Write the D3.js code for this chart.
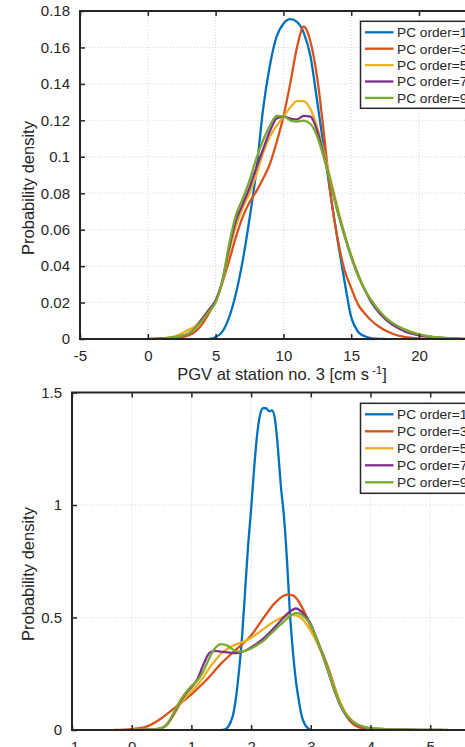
<!DOCTYPE html>
<html>
<head>
<meta charset="utf-8">
<script src="https://cdn.jsdelivr.net/npm/d3@7"></script>
<style>
  html, body { margin: 0; padding: 0; background: #fff; }
  svg { display: block; font-family: "Liberation Sans", Arial, Helvetica, sans-serif; }
</style>
</head>
<body>
<div id="chart"></div>
<script>
// PDF curves, [x, density]
const seriesNames = ["PC order=1", "PC order=3", "PC order=5", "PC order=7", "PC order=9"];
const seriesColors = ["#0072BD", "#D95319", "#EDB120", "#7E2F8E", "#77AC30"];

// top panel: PGV at station no. 3
const topOrder1 = [[4.5,0],[5,0.001],[5.5,0.004],[6,0.012],[6.5,0.025],[7,0.043],[7.5,0.066],[8,0.092],[8.5,0.126],[9,0.150],[9.5,0.166],[10,0.173],[10.5,0.1755],[11,0.174],[11.5,0.168],[12,0.155],[12.5,0.130],[13,0.104],[13.5,0.078],[14,0.054],[14.5,0.032],[15,0.012],[15.5,0.004],[16,0.0015],[16.5,0.0004],[17,0.0001],[17.5,0]];
const topOrder3 = [[1.5,0],[2,0.0005],[3,0.002],[3.5,0.004],[4,0.008],[4.5,0.014],[5,0.021],[5.5,0.031],[6,0.043],[6.5,0.056],[7,0.067],[7.5,0.075],[8,0.081],[8.5,0.088],[9,0.096],[9.5,0.108],[10,0.122],[10.5,0.140],[11,0.160],[11.5,0.1715],[12,0.163],[12.5,0.143],[13,0.112],[13.5,0.078],[14,0.055],[14.5,0.038],[15,0.028],[15.5,0.019],[16,0.014],[16.5,0.010],[17,0.007],[18,0.003],[19,0.001],[20,0.0003],[21,0]];
const topOrder5 = [[0.5,0],[1,0.0003],[2,0.0015],[3,0.005],[3.5,0.007],[4,0.011],[4.5,0.016],[5,0.021],[5.5,0.031],[6,0.048],[6.5,0.062],[7,0.072],[7.5,0.080],[8,0.090],[8.5,0.102],[9,0.111],[9.5,0.117],[10,0.122],[10.5,0.127],[11,0.1305],[11.5,0.1305],[12,0.126],[12.5,0.116],[13,0.102],[13.5,0.087],[14,0.072],[14.5,0.058],[15,0.046],[15.5,0.036],[16,0.027],[16.5,0.021],[17,0.016],[17.5,0.012],[18,0.009],[19,0.005],[20,0.0025],[21,0.0012],[22,0.0005],[23,0.0002],[24,0]];
const topOrder7 = [[0,0],[0.5,0.0002],[1,0.0003],[2,0.001],[3,0.003],[3.5,0.006],[4,0.011],[4.5,0.016],[5,0.021],[5.5,0.032],[6,0.050],[6.5,0.065],[7,0.074],[7.5,0.083],[8,0.094],[8.5,0.104],[9,0.114],[9.5,0.121],[10,0.122],[10.5,0.121],[11,0.1205],[11.5,0.1225],[12,0.122],[12.5,0.114],[13,0.100],[13.5,0.085],[14,0.070],[14.5,0.057],[15,0.045],[15.5,0.035],[16,0.027],[16.5,0.020],[17,0.015],[17.5,0.011],[18,0.008],[19,0.004],[20,0.002],[21,0.001],[22,0.0004],[23,0]];
const topOrder9 = [[0,0],[1,0.0002],[2,0.001],[3,0.003],[3.5,0.006],[4,0.010],[4.5,0.015],[5,0.020],[5.5,0.032],[6,0.052],[6.5,0.068],[7,0.077],[7.5,0.087],[8,0.099],[8.5,0.109],[9,0.117],[9.5,0.1225],[10,0.1222],[10.5,0.120],[11,0.1193],[11.5,0.1198],[12,0.118],[12.5,0.111],[13,0.099],[13.5,0.085],[14,0.070],[14.5,0.057],[15,0.045],[15.5,0.035],[16,0.027],[16.5,0.021],[17,0.016],[17.5,0.012],[18,0.009],[18.5,0.0068],[19,0.005],[20,0.0025],[21,0.0012],[22,0.0006],[23,0.0003],[24,0.0001],[25,0.0001]];
const topXTicks = [-5, 0, 5, 10, 15, 20, 25];
const topYTicks = [0, 0.02, 0.04, 0.06, 0.08, 0.1, 0.12, 0.14, 0.16, 0.18];

// bottom panel
const botOrder1 = [[1.5,0],[1.55,0.002],[1.6,0.01],[1.65,0.03],[1.7,0.07],[1.75,0.15],[1.8,0.27],[1.85,0.42],[1.9,0.62],[1.95,0.82],[2.0,0.98],[2.05,1.16],[2.1,1.31],[2.15,1.40],[2.2,1.43],[2.25,1.43],[2.3,1.417],[2.35,1.42],[2.4,1.38],[2.45,1.25],[2.5,1.08],[2.55,0.95],[2.6,0.76],[2.65,0.52],[2.7,0.35],[2.75,0.22],[2.8,0.13],[2.85,0.06],[2.9,0.025],[2.95,0.008],[3.0,0]];
const botOrder3 = [[-0.3,0],[0,0.004],[0.25,0.015],[0.5,0.052],[0.75,0.105],[1.0,0.158],[1.25,0.222],[1.5,0.296],[1.75,0.358],[2.0,0.42],[2.2,0.495],[2.4,0.565],[2.6,0.602],[2.7,0.598],[2.8,0.57],[2.9,0.52],[3.0,0.46],[3.1,0.40],[3.2,0.34],[3.3,0.27],[3.4,0.19],[3.5,0.115],[3.6,0.06],[3.7,0.028],[3.8,0.012],[3.9,0.005],[4.0,0.002],[4.2,0]];
const botOrder5 = [[0,0.002],[0.3,0.003],[0.5,0.008],[0.6,0.025],[0.7,0.065],[0.8,0.11],[0.9,0.145],[1.0,0.172],[1.1,0.2],[1.2,0.235],[1.3,0.275],[1.4,0.31],[1.5,0.34],[1.6,0.36],[1.7,0.375],[1.8,0.385],[1.9,0.395],[2.0,0.41],[2.1,0.428],[2.2,0.447],[2.3,0.467],[2.4,0.485],[2.5,0.498],[2.6,0.507],[2.7,0.511],[2.8,0.505],[2.9,0.48],[3.0,0.44],[3.1,0.39],[3.2,0.33],[3.3,0.26],[3.4,0.185],[3.5,0.12],[3.6,0.07],[3.7,0.04],[3.8,0.022],[3.9,0.013],[4.0,0.008],[4.3,0.003],[4.6,0.0015],[5.0,0.0005],[5.3,0]];
const botOrder7 = [[0,0.001],[0.3,0.002],[0.4,0.003],[0.5,0.008],[0.6,0.028],[0.7,0.07],[0.8,0.12],[0.9,0.16],[1.0,0.19],[1.1,0.225],[1.2,0.29],[1.3,0.342],[1.4,0.352],[1.5,0.348],[1.6,0.345],[1.7,0.342],[1.8,0.343],[1.9,0.352],[2.0,0.367],[2.1,0.385],[2.2,0.405],[2.3,0.43],[2.4,0.458],[2.5,0.487],[2.6,0.515],[2.7,0.535],[2.75,0.54],[2.8,0.535],[2.9,0.51],[3.0,0.47],[3.1,0.405],[3.2,0.333],[3.3,0.252],[3.4,0.172],[3.5,0.107],[3.6,0.062],[3.7,0.036],[3.8,0.02],[3.9,0.012],[4.0,0.007],[4.3,0.003],[4.6,0.0013],[5.0,0.0005],[5.2,0]];
const botOrder9 = [[0,0.001],[0.3,0.002],[0.4,0.003],[0.5,0.008],[0.6,0.03],[0.7,0.075],[0.8,0.125],[0.9,0.165],[1.0,0.195],[1.1,0.22],[1.2,0.26],[1.3,0.32],[1.4,0.365],[1.5,0.382],[1.6,0.375],[1.7,0.357],[1.8,0.348],[1.9,0.352],[2.0,0.362],[2.1,0.378],[2.2,0.395],[2.3,0.42],[2.4,0.445],[2.5,0.47],[2.6,0.495],[2.7,0.515],[2.75,0.52],[2.8,0.518],[2.9,0.50],[3.0,0.465],[3.1,0.405],[3.2,0.335],[3.3,0.255],[3.4,0.175],[3.5,0.11],[3.6,0.065],[3.7,0.038],[3.8,0.022],[3.9,0.013],[4.0,0.008],[4.3,0.003],[4.6,0.0015],[5.0,0.0007],[5.3,0]];
const botXTicks = [-1, 0, 1, 2, 3, 4, 5, 6];
const botYTicks = [0, 0.5, 1, 1.5];

const W = 465, H = 747;
const ink = "#262626";

const svg = d3.select("#chart").append("svg")
    .attr("width", W)
    .attr("height", H);

function panel(opt) {
    const { left, right, top, bottom, xDomain, yDomain, xTicks, yTicks, series, legendY, labelY, id } = opt;
    const x = d3.scaleLinear().domain(xDomain).range([left, right]);
    const y = d3.scaleLinear().domain(yDomain).range([bottom, top]);
    const g = svg.append("g");

    // dotted grid
    g.append("g").selectAll("line.gx").data(xTicks).join("line")
        .attr("x1", d => x(d)).attr("x2", d => x(d))
        .attr("y1", top).attr("y2", bottom)
        .attr("stroke", "#d4d4d4").attr("stroke-width", 1).attr("stroke-dasharray", "1,2");
    g.append("g").selectAll("line.gy").data(yTicks).join("line")
        .attr("x1", left).attr("x2", right)
        .attr("y1", d => y(d)).attr("y2", d => y(d))
        .attr("stroke", "#d4d4d4").attr("stroke-width", 1).attr("stroke-dasharray", "1,2");

    // curves
    svg.append("clipPath").attr("id", id)
        .append("rect").attr("x", left).attr("y", top - 2)
        .attr("width", right - left).attr("height", bottom - top + 2);
    const line = d3.line().x(d => x(d[0])).y(d => y(d[1])).curve(d3.curveMonotoneX);
    g.append("g").attr("clip-path", `url(#${id})`)
        .selectAll("path").data(series).join("path")
        .attr("d", d => line(d))
        .attr("fill", "none")
        .attr("stroke", (d, i) => seriesColors[i])
        .attr("stroke-width", 2.3)
        .attr("stroke-linejoin", "round");

    // axes, ticks pointing in
    const fmt = d => String(+d.toFixed(3));
    const xb = g.append("g").attr("transform", `translate(0,${bottom})`)
        .call(d3.axisBottom(x).tickValues(xTicks).tickSize(-5).tickPadding(11).tickFormat(fmt));
    const xt = g.append("g").attr("transform", `translate(0,${top})`)
        .call(d3.axisTop(x).tickValues(xTicks).tickSize(-5).tickFormat(""));
    const yl = g.append("g").attr("transform", `translate(${left},0)`)
        .call(d3.axisLeft(y).tickValues(yTicks).tickSize(-5).tickPadding(10).tickFormat(fmt));
    [xb, xt, yl].forEach(a => {
        a.select(".domain").remove();
        a.selectAll(".tick line").attr("stroke", ink).attr("stroke-width", 1.5);
        a.selectAll("text").attr("fill", ink).style("font-size", "15px")
            .style("font-family", "'Liberation Sans', Arial, sans-serif");
    });

    // frame
    g.append("rect")
        .attr("x", left).attr("y", top)
        .attr("width", right - left).attr("height", bottom - top)
        .attr("fill", "none").attr("stroke", ink).attr("stroke-width", 2);

    // y label
    g.append("text")
        .attr("transform", `translate(${opt.yLabelX},${labelY}) rotate(-90)`)
        .attr("text-anchor", "middle")
        .attr("fill", ink)
        .style("font-size", "16.5px")
        .text("Probability density");

    // legend
    const lg = g.append("g").attr("transform", `translate(360.5,${legendY})`);
    lg.append("rect")
        .attr("width", 140).attr("height", opt.legendH)
        .attr("fill", "#fff").attr("stroke", ink).attr("stroke-width", 1.5);
    const step = (opt.legendH - 5) / seriesNames.length;
    seriesNames.forEach((name, i) => {
        const cy = 11 + i * step;
        lg.append("line")
            .attr("x1", 4.5).attr("x2", 33)
            .attr("y1", cy).attr("y2", cy)
            .attr("stroke", seriesColors[i]).attr("stroke-width", 2.3);
        lg.append("text")
            .attr("x", 36.5).attr("y", cy)
            .attr("dy", "0.36em")
            .attr("fill", ink)
            .style("font-size", "13.7px")
            .text(name);
    });
    return { x, y, g };
}

const topPanel = panel({
    id: "clipTop",
    left: 80, right: 486.8, top: 11, bottom: 339,
    xDomain: [-5, 25], yDomain: [0, 0.18],
    xTicks: topXTicks, yTicks: topYTicks,
    series: [topOrder1, topOrder3, topOrder5, topOrder7, topOrder9],
    legendY: 21.3, legendH: 87, labelY: 188, yLabelX: 34
});

// x label of the top panel
const xl = topPanel.g.append("text")
    .attr("x", 282).attr("y", 380)
    .attr("text-anchor", "middle")
    .attr("fill", ink)
    .style("font-size", "16.5px");
xl.append("tspan").text("PGV at station no. 3 [cm s");
xl.append("tspan").attr("dx", 3).attr("dy", -6).style("font-size", "11.5px").text("-1");
xl.append("tspan").attr("dy", 6).text("]");

panel({
    id: "clipBot",
    left: 72, right: 489.9, top: 392.5, bottom: 730,
    xDomain: [-1, 6], yDomain: [0, 1.5],
    xTicks: botXTicks, yTicks: botYTicks,
    series: [botOrder1, botOrder3, botOrder5, botOrder7, botOrder9],
    legendY: 403.3, legendH: 90, labelY: 574, yLabelX: 34
});
</script>
</body>
</html>
